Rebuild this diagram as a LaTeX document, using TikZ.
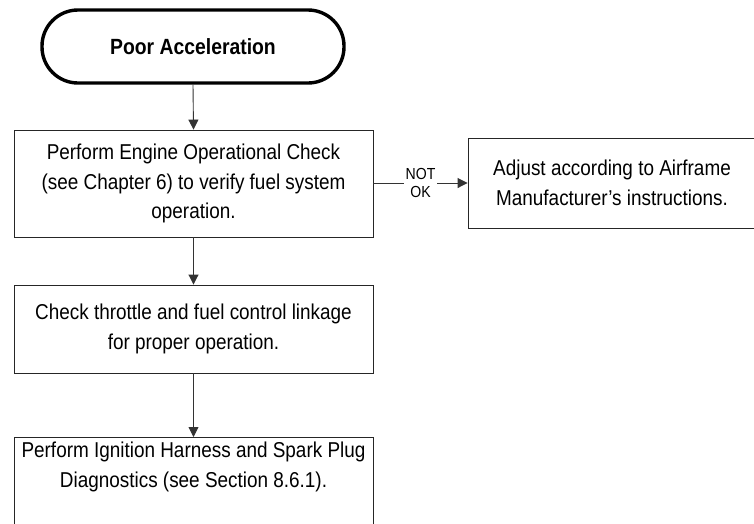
\documentclass[tikz,border=0pt]{standalone}
\usepackage{fontspec}
\setmainfont{Liberation Sans}
\newfontfamily\narrowfont[FakeStretch=0.88]{Liberation Sans}
\usetikzlibrary{arrows.meta}
\tikzset{
  x=1pt,y=-1pt,
  boxnode/.style={draw=black!85,line width=0.9pt,rectangle,align=center,inner sep=0pt,
    font={\narrowfont\fontsize{21.5}{29.5}\selectfont}},
  termnode/.style={draw=black,line width=3.4pt,rectangle,rounded corners=36pt,align=center,
    font={\narrowfont\bfseries\fontsize{22}{26}\selectfont}},
  flowarrow/.style={draw=black!80,line width=0.9pt,-{Triangle[length=10pt,width=10pt]}},
  lblnode/.style={fill=white,inner sep=1.5pt,align=center,
    font={\narrowfont\fontsize{16}{17.5}\selectfont}}
}
\begin{document}
\begin{tikzpicture}
\useasboundingbox (0,0) rectangle (754,523);
\clip (0,0) rectangle (754,523);
\node[termnode,minimum width=302pt,minimum height=73pt] (start) at (193,46.5) {Poor Acceleration};
\node[boxnode,minimum width=359pt,minimum height=107pt] (b1) at (193.5,183.5)
  {Perform Engine Operational Check\\(see Chapter 6) to verify fuel system\\operation.};
\node[boxnode,minimum width=359pt,minimum height=88pt] (b2) at (193.5,329)
  {Check throttle and fuel control linkage\\for proper operation.};
\node[boxnode,minimum width=359pt,minimum height=110pt,anchor=north] (b3) at (193.5,437) {};
\node[font={\narrowfont\fontsize{21.5}{29.5}\selectfont},align=center] (b3t) at (193.5,467)
  {Perform Ignition Harness and Spark Plug\\Diagnostics (see Section 8.6.1).};
\node[boxnode,minimum width=288pt,minimum height=90pt] (r) at (612,183)
  {Adjust according to Airframe\\Manufacturer’s instructions.};
\draw[flowarrow] (start.south) -- (b1.north);
\draw[flowarrow] (b1.south) -- (b2.north);
\draw[flowarrow] (b2.south) -- (b3.north);
\draw[flowarrow] (b1.east |- r.west) -- (r.west) node[lblnode,pos=0.5] (lbl) {NOT\\OK};
\end{tikzpicture}
\end{document}
